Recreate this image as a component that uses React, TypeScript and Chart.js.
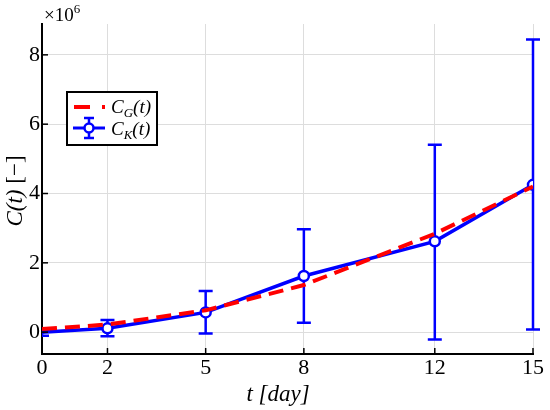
import React, { useEffect, useRef } from "react";
import Chart from "chart.js/auto";

const xDays = [0, 2, 5, 8, 12, 15];
const ckValues = [0.0, 0.11, 0.57, 1.62, 2.62, 4.25];
const ckLower = [-0.1, -0.12, -0.04, 0.27, -0.21, 0.08];
const ckUpper = [0.03, 0.35, 1.19, 2.97, 5.41, 8.44];
const cgValues = [0.09, 0.22, 0.63, 1.36, 2.84, 4.2];
const xTicks = [0, 2, 5, 8, 12, 15];
const yTicks = [0, 2, 4, 6, 8];

const BLUE = "#0000ff";
const RED = "#ff0000";
const SERIF = "'Liberation Serif', 'DejaVu Serif', serif";

function drawSubText(ctx: CanvasRenderingContext2D, x: number, y: number, main: string, sub: string, rest: string, size: number) {
  ctx.textAlign = "left";
  ctx.textBaseline = "alphabetic";
  ctx.font = `italic ${size}px ${SERIF}`;
  ctx.fillText(main, x, y);
  let cx = x + ctx.measureText(main).width;
  ctx.font = `italic ${Math.round(size * 0.7)}px ${SERIF}`;
  ctx.fillText(sub, cx, y + size * 0.22);
  cx += ctx.measureText(sub).width;
  ctx.font = `italic ${size}px ${SERIF}`;
  ctx.fillText(rest, cx, y);
}

const overlayPlugin = {
  id: "overlay",
  beforeDatasetsDraw(chart: any) {
    const ctx = chart.ctx;
    const xs = chart.scales.x;
    const ys = chart.scales.y;
    const area = chart.chartArea;
    ctx.save();
    ctx.beginPath();
    ctx.rect(area.left, area.top - 20, area.right - area.left + 20, area.bottom - area.top + 20);
    ctx.clip();
    ctx.strokeStyle = BLUE;
    ctx.lineWidth = 2.5;
    for (let i = 0; i < xDays.length; i++) {
      const px = xs.getPixelForValue(xDays[i]);
      const lo = ys.getPixelForValue(ckLower[i]);
      const hi = ys.getPixelForValue(ckUpper[i]);
      ctx.beginPath();
      ctx.moveTo(px, lo);
      ctx.lineTo(px, hi);
      ctx.moveTo(px - 7, lo);
      ctx.lineTo(px + 7, lo);
      ctx.moveTo(px - 7, hi);
      ctx.lineTo(px + 7, hi);
      ctx.stroke();
    }
    ctx.restore();
  },
  afterDraw(chart: any) {
    const ctx = chart.ctx;
    const xs = chart.scales.x;
    const ys = chart.scales.y;
    const area = chart.chartArea;
    ctx.save();
    // inner ticks
    ctx.strokeStyle = "#000";
    ctx.lineWidth = 1.5;
    for (const t of yTicks) {
      const py = ys.getPixelForValue(t);
      ctx.beginPath();
      ctx.moveTo(area.left, py);
      ctx.lineTo(area.left + 6, py);
      ctx.stroke();
    }
    for (const t of xTicks) {
      const px = xs.getPixelForValue(t);
      ctx.beginPath();
      ctx.moveTo(px, area.bottom);
      ctx.lineTo(px, area.bottom - 6);
      ctx.stroke();
    }
    // exponent
    ctx.fillStyle = "#000";
    ctx.textAlign = "left";
    ctx.textBaseline = "alphabetic";
    ctx.font = `19px ${SERIF}`;
    ctx.fillText("×10", area.left + 2, 21);
    const w = ctx.measureText("×10").width;
    ctx.font = `13px ${SERIF}`;
    ctx.fillText("6", area.left + 2 + w, 13);
    // x title
    const xt1 = "t ";
    const xt2 = "[day]";
    ctx.font = `italic 23px ${SERIF}`;
    const w1 = ctx.measureText(xt1).width;
    const w2 = ctx.measureText(xt2).width;
    const xc = 278;
    ctx.fillText(xt1, xc - (w1 + w2) / 2, 401);
    ctx.fillText(xt2, xc - (w1 + w2) / 2 + w1, 401);
    // y title
    ctx.save();
    ctx.translate(22, 191);
    ctx.rotate(-Math.PI / 2);
    ctx.font = `italic 23px ${SERIF}`;
    const yt1 = "C(t) ";
    const ww1 = ctx.measureText(yt1).width;
    ctx.font = `23px ${SERIF}`;
    const yt2 = "[−]";
    const ww2 = ctx.measureText(yt2).width;
    const sx = -(ww1 + ww2) / 2;
    ctx.font = `italic 23px ${SERIF}`;
    ctx.fillText(yt1, sx, 0);
    ctx.font = `23px ${SERIF}`;
    ctx.fillText(yt2, sx + ww1, 0);
    ctx.restore();
    // legend
    const lx = 67, ly = 92, lw = 90, lh = 53;
    ctx.fillStyle = "#fff";
    ctx.fillRect(lx, ly, lw, lh);
    ctx.strokeStyle = "#000";
    ctx.lineWidth = 2;
    ctx.strokeRect(lx, ly, lw, lh);
    ctx.strokeStyle = RED;
    ctx.lineWidth = 4;
    ctx.setLineDash([16, 12]);
    ctx.beginPath();
    ctx.moveTo(74, 107);
    ctx.lineTo(105, 107);
    ctx.stroke();
    ctx.setLineDash([]);
    ctx.strokeStyle = BLUE;
    ctx.lineWidth = 3;
    ctx.beginPath();
    ctx.moveTo(73, 128);
    ctx.lineTo(105, 128);
    ctx.stroke();
    ctx.lineWidth = 2.5;
    ctx.beginPath();
    ctx.moveTo(89, 118);
    ctx.lineTo(89, 138);
    ctx.moveTo(84, 118);
    ctx.lineTo(94, 118);
    ctx.moveTo(84, 138);
    ctx.lineTo(94, 138);
    ctx.stroke();
    ctx.fillStyle = "#fff";
    ctx.beginPath();
    ctx.arc(89, 128, 4.5, 0, Math.PI * 2);
    ctx.fill();
    ctx.stroke();
    ctx.fillStyle = "#000";
    drawSubText(ctx, 111, 113, "C", "G", "(t)", 19);
    drawSubText(ctx, 111, 135, "C", "K", "(t)", 19);
    ctx.restore();
  },
};

export default function App() {
  const ref = useRef<HTMLCanvasElement | null>(null);
  useEffect(() => {
    if (!ref.current) return;
    const chart = new Chart(ref.current, {
      type: "line",
      data: {
        datasets: [
          {
            label: "C_K(t)",
            data: xDays.map((x, i) => ({ x, y: ckValues[i] })),
            borderColor: BLUE,
            borderWidth: 3.5,
            pointRadius: xDays.map((x) => (x === 0 ? 0 : 5)),
            pointBorderWidth: 2.5,
            pointBackgroundColor: "#fff",
            pointBorderColor: BLUE,
            tension: 0,
            order: 2,
          },
          {
            label: "C_G(t)",
            data: xDays.map((x, i) => ({ x, y: cgValues[i] })),
            borderColor: RED,
            borderWidth: 4,
            borderDash: [15, 8],
            pointRadius: 0,
            tension: 0,
            order: 1,
          },
        ],
      },
      options: {
        responsive: false,
        animation: false,
        layout: { padding: { top: 24, right: 17, left: 0, bottom: 0 } },
        plugins: { legend: { display: false }, tooltip: { enabled: false } },
        scales: {
          x: {
            type: "linear",
            min: 0,
            max: 15,
            afterBuildTicks: (s: any) => {
              s.ticks = xTicks.map((v) => ({ value: v }));
            },
            afterFit: (s: any) => {
              s.height = 56;
            },
            grid: { color: "#dddddd", lineWidth: 1, drawTicks: false },
            border: { color: "#000", width: 2 },
            ticks: {
              color: "#000",
              font: { family: SERIF, size: 22 },
              padding: 1,
              maxRotation: 0,
            },
          },
          y: {
            type: "linear",
            min: -0.63,
            max: 8.89,
            afterBuildTicks: (s: any) => {
              s.ticks = yTicks.map((v) => ({ value: v }));
            },
            afterFit: (s: any) => {
              s.width = 42;
            },
            grid: { color: "#dddddd", lineWidth: 1, drawTicks: false },
            border: { color: "#000", width: 2 },
            ticks: {
              color: "#000",
              font: { family: SERIF, size: 22 },
              padding: 2,
            },
          },
        },
      },
      plugins: [overlayPlugin],
    } as any);
    return () => chart.destroy();
  }, []);
  return (
    <div style={{ position: "fixed", left: 0, top: 0, width: 550, height: 410, background: "#fff" }}>
      <canvas ref={ref} width={550} height={410} style={{ width: 550, height: 410 }} />
    </div>
  );
}
